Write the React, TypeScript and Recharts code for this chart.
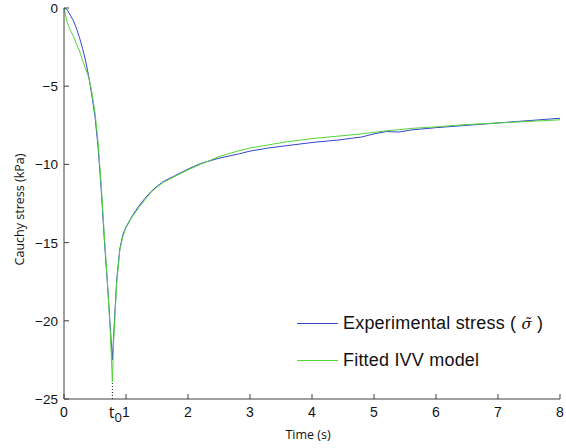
import React from "react";
import {
  LineChart,
  Line,
  XAxis,
  YAxis,
  Legend,
  ReferenceLine,
} from "recharts";

// time (s)
const times = [
  0, 0.05, 0.1, 0.15, 0.2, 0.25, 0.3, 0.35, 0.4, 0.45, 0.5, 0.55, 0.6, 0.65,
  0.7, 0.75, 0.78, 0.8, 0.85, 0.9, 0.95, 1.0, 1.1, 1.2, 1.3, 1.4, 1.5, 1.6,
  1.8, 2.0, 2.2, 2.5, 2.8, 3.0, 3.3, 3.6, 4.0, 4.4, 4.8, 5.0, 5.2, 5.4, 5.6,
  6.0, 6.5, 7.0, 7.5, 8.0,
];

// experimental stress (kPa)
const expStress = [
  0, -0.1, -0.45, -0.8, -1.3, -1.9, -2.6, -3.4, -4.4, -5.6, -6.95, -8.9,
  -11.6, -14.8, -17.6, -20.6, -22.5, -21.0, -17.4, -15.4, -14.5, -14.0,
  -13.3, -12.7, -12.2, -11.75, -11.4, -11.1, -10.7, -10.3, -9.95, -9.6,
  -9.35, -9.15, -8.95, -8.8, -8.6, -8.45, -8.25, -8.05, -7.9, -7.93, -7.8,
  -7.65, -7.5, -7.35, -7.2, -7.05,
];

// fitted IVV model (kPa)
const fitModel = [
  0, -0.9, -1.4, -1.8, -2.3, -2.75, -3.35, -3.9, -4.45, -5.4, -6.7, -8.6,
  -11.3, -14.5, -17.5, -21.0, -23.9, -21.4, -17.6, -15.5, -14.6, -14.05,
  -13.35, -12.8, -12.3, -11.8, -11.45, -11.15, -10.75, -10.35, -10.0, -9.5,
  -9.15, -8.95, -8.75, -8.55, -8.35, -8.2, -8.05, -7.95, -7.85, -7.78, -7.7,
  -7.6, -7.45, -7.35, -7.25, -7.15,
];

const xTicks = [0, 0.78, 1, 2, 3, 4, 5, 6, 7, 8];
const yTicks = [-25, -20, -15, -10, -5, 0];
const T0 = 0.78;
const T0_MIN = -23.9;

const data = times.map((t, i) => ({ t, exp: expStress[i], fit: fitModel[i] }));

const AXIS = "#404040";
const TICK_FONT = "'Liberation Sans', Arial, sans-serif";
const LABEL_FONT = "'Open Sans', sans-serif";

function Tick(props: any) {
  const { x, y, payload, side } = props;
  const v = payload.value;
  if (side === "bottom") {
    if (v === T0) {
      return (
        <text x={x + 3} y={y + 19} textAnchor="middle" fill="#111" fontFamily={LABEL_FONT}>
          <tspan fontSize={16}>t</tspan>
          <tspan fontSize={13} dy={4}>0</tspan>
        </text>
      );
    }
    return (
      <g>
        <line x1={x} x2={x} y1={y} y2={y - 5} stroke={AXIS} />
        <text x={x} y={y + 18} textAnchor="middle" fontSize={14} fill="#111" fontFamily={TICK_FONT}>
          {v}
        </text>
      </g>
    );
  }
  if (side === "top") {
    if (v === T0) return null;
    return <line x1={x} x2={x} y1={y} y2={y + 5} stroke={AXIS} />;
  }
  if (side === "left") {
    return (
      <g>
        <line x1={x} x2={x + 5} y1={y} y2={y} stroke={AXIS} />
        <text x={x - 6} y={y + 5} textAnchor="end" fontSize={13.5} fill="#111" fontFamily={TICK_FONT}>
          {String(v).replace("-", "\u2212")}
        </text>
      </g>
    );
  }
  return <line x1={x} x2={x - 5} y1={y} y2={y} stroke={AXIS} />;
}

function LegendBox() {
  const row = (color: string, label: React.ReactNode, top: number) => (
    <div style={{ position: "absolute", left: 0, top, display: "flex", alignItems: "center" }}>
      <div style={{ width: 41, height: 1, background: color, marginRight: 5 }} />
      <span style={{ fontFamily: "'Liberation Sans', Arial, sans-serif", fontSize: 18, letterSpacing: 0.2, color: "#111", whiteSpace: "nowrap", lineHeight: "20px" }}>
        {label}
      </span>
    </div>
  );
  return (
    <div style={{ position: "relative", width: 262, height: 60 }}>
      {row(
        "#3345cc",
        <>
          {"Experimental stress ( "}
          <span style={{ fontFamily: "'DejaVu Serif', serif", fontStyle: "italic", fontSize: 15 }}>
            {"\u03c3\u0303"}
          </span>
          {" )"}
        </>,
        0
      )}
      {row("#55d43a", "Fitted IVV model", 37)}
    </div>
  );
}

export default function App() {
  return (
    <div style={{ position: "absolute", left: 0, top: 0, width: 566, height: 448, background: "#fff" }}>
      <LineChart
        width={566}
        height={448}
        data={data}
        margin={{ top: 8, right: 6, bottom: 0, left: 0 }}
      >
        <XAxis
          xAxisId="b"
          dataKey="t"
          type="number"
          domain={[0, 8]}
          ticks={xTicks}
          interval={0}
          height={49}
          tickSize={0}
          tickMargin={0}
          tickLine={false}
          axisLine={{ stroke: AXIS }}
          tick={(p: any) => <Tick {...p} side="bottom" />}
          label={{ value: "Time (s)", position: "insideBottom", offset: 9, fontSize: 12.5, fill: "#111", fontFamily: LABEL_FONT, dx: -4 }}
        />
        <XAxis
          xAxisId="t"
          orientation="top"
          dataKey="t"
          type="number"
          domain={[0, 8]}
          ticks={xTicks}
          interval={0}
          height={0}
          tickSize={0}
          tickMargin={0}
          tickLine={false}
          axisLine={{ stroke: AXIS }}
          tick={(p: any) => <Tick {...p} side="top" />}
        />
        <YAxis
          yAxisId="l"
          type="number"
          domain={[-25, 0]}
          ticks={yTicks}
          interval={0}
          width={64}
          tickSize={0}
          tickMargin={0}
          tickLine={false}
          axisLine={{ stroke: AXIS }}
          tick={(p: any) => <Tick {...p} side="left" />}
          label={{ value: "Cauchy stress (kPa)", angle: -90, position: "insideLeft", offset: 20, dy: 6, fontSize: 12.5, fill: "#111", fontFamily: LABEL_FONT, style: { textAnchor: "middle" } }}
        />
        <YAxis
          yAxisId="r"
          orientation="right"
          type="number"
          domain={[-25, 0]}
          ticks={yTicks}
          interval={0}
          width={0}
          tickSize={0}
          tickMargin={0}
          tickLine={false}
          axisLine={{ stroke: AXIS }}
          tick={(p: any) => <Tick {...p} side="right" />}
        />
        <ReferenceLine
          xAxisId="b"
          yAxisId="l"
          segment={[
            { x: T0, y: -25 },
            { x: T0, y: T0_MIN },
          ]}
          stroke="#111"
          strokeDasharray="1 2"
        />
        <Line
          xAxisId="b"
          yAxisId="l"
          type="linear"
          dataKey="exp"
          name="Experimental stress"
          stroke="#3345cc"
          strokeWidth={1}
          dot={false}
          isAnimationActive={false}
        />
        <Line
          xAxisId="b"
          yAxisId="l"
          type="linear"
          dataKey="fit"
          name="Fitted IVV model"
          stroke="#55d43a"
          strokeWidth={1}
          dot={false}
          isAnimationActive={false}
        />
        <Legend
          layout="vertical"
          align="center"
          verticalAlign="middle"
          content={() => <LegendBox />}
          wrapperStyle={{ left: 297, top: 313, width: 262, height: 60 }}
        />
      </LineChart>
    </div>
  );
}
